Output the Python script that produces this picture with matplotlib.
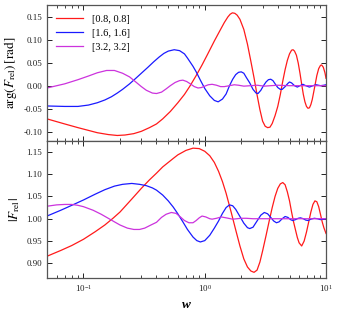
import matplotlib
matplotlib.use("Agg")
import matplotlib.pyplot as plt
import matplotlib.ticker as mticker
import numpy as np

plt.rcParams['font.family'] = ['Liberation Serif', 'DejaVu Serif']
plt.rcParams['mathtext.fontset'] = 'stix'

labels = ['[0.8, 0.8]', '[1.6, 1.6]', '[3.2, 3.2]']
colors = ['#ff1a1a', '#1a1aff', '#cc33dd']

# arg(F_rel) vs w
w_arg_red = [0.05, 0.07, 0.09, 0.11, 0.13, 0.16, 0.19, 0.22, 0.26, 0.30, 0.35, 0.40,
             0.45, 0.52, 0.60, 0.68, 0.75, 0.85, 0.95, 1.05, 1.2, 1.35, 1.45, 1.55,
             1.62, 1.69, 1.77, 1.85, 1.95, 2.1, 2.25, 2.4, 2.55, 2.7, 2.85, 3.0, 3.15,
             3.3, 3.45, 3.6, 3.8, 4.0, 4.2, 4.4, 4.6, 4.8, 5.0, 5.2, 5.35, 5.5, 5.7,
             5.9, 6.1, 6.3, 6.5, 6.7, 6.9, 7.1, 7.3, 7.5, 7.7, 7.9, 8.1, 8.4, 8.7,
             9.0, 9.2, 9.5, 9.8, 10.0]
arg_red = [-0.072, -0.083, -0.091, -0.097, -0.102, -0.106, -0.108, -0.107, -0.104,
           -0.099, -0.091, -0.083, -0.072, -0.056, -0.037, -0.019, -0.002, 0.022,
           0.045, 0.067, 0.097, 0.122, 0.137, 0.149, 0.155, 0.158, 0.157, 0.153,
           0.144, 0.122, 0.090, 0.053, 0.017, -0.020, -0.052, -0.077, -0.088,
           -0.091, -0.090, -0.082, -0.065, -0.045, -0.019, 0.010, 0.035, 0.055,
           0.069, 0.077, 0.078, 0.075, 0.066, 0.049, 0.027, 0.003, -0.019, -0.035,
           -0.045, -0.049, -0.048, -0.041, -0.030, -0.015, 0.000, 0.022, 0.037,
           0.044, 0.045, 0.040, 0.028, 0.016]

w_arg_blue = [0.05, 0.07, 0.09, 0.11, 0.13, 0.15, 0.17, 0.19, 0.21, 0.24, 0.27, 0.30,
              0.34, 0.38, 0.42, 0.46, 0.50, 0.56, 0.62, 0.68, 0.72, 0.80, 0.85, 0.92,
              1.0, 1.1, 1.2, 1.29, 1.4, 1.5, 1.6, 1.7, 1.8, 1.9, 2.0, 2.1, 2.2, 2.35,
              2.5, 2.65, 2.75, 2.9, 3.05, 3.2, 3.35, 3.5, 3.65, 3.85, 4.0, 4.2, 4.35,
              4.6, 4.85, 5.0, 5.2, 5.5, 5.8, 6.1, 6.45, 6.8, 7.3, 7.8, 8.3, 9.0, 9.6,
              10.0]
arg_blue = [-0.044, -0.045, -0.045, -0.042, -0.037, -0.031, -0.024, -0.016, -0.008,
            0.004, 0.016, 0.027, 0.040, 0.052, 0.062, 0.070, 0.075, 0.078, 0.076,
            0.069, 0.060, 0.042, 0.030, 0.012, -0.006, -0.022, -0.032, -0.035,
            -0.029, -0.018, 0.000, 0.014, 0.024, 0.029, 0.030, 0.027, 0.018, 0.006,
            -0.008, -0.016, -0.017, -0.010, 0.000, 0.008, 0.013, 0.014, 0.011, 0.002,
            -0.004, -0.008, -0.008, -0.002, 0.005, 0.008, 0.006, 0.000, -0.003, 0.000,
            0.003, 0.000, -0.003, 0.000, 0.002, 0.000, 0.001, 0.002]

w_arg_mag = [0.05, 0.07, 0.09, 0.11, 0.13, 0.155, 0.18, 0.21, 0.24, 0.27, 0.30, 0.33,
             0.37, 0.40, 0.44, 0.48, 0.52, 0.57, 0.62, 0.66, 0.71, 0.76, 0.82, 0.88,
             0.94, 1.0, 1.07, 1.15, 1.25, 1.35, 1.45, 1.6, 1.75, 1.9, 2.1, 2.4, 2.7,
             3.1, 3.5, 4.0, 5.0, 6.0, 7.0, 8.0, 10.0]
arg_mag = [-0.005, 0.004, 0.013, 0.021, 0.028, 0.033, 0.033, 0.027, 0.019, 0.008,
           -0.002, -0.010, -0.016, -0.017, -0.014, -0.007, 0.000, 0.007, 0.011, 0.012,
           0.009, 0.004, -0.002, -0.005, -0.004, -0.001, 0.002, 0.003, 0.001, -0.002,
           -0.002, 0.000, 0.002, 0.001, -0.001, 0.000, 0.001, -0.001, 0.000, 0.001,
           0.000, 0.000, 0.000, 0.000, 0.000]

# |F_rel| vs w
w_abs_red = [0.05, 0.065, 0.08, 0.1, 0.125, 0.15, 0.175, 0.2, 0.25, 0.3, 0.35, 0.4,
             0.45, 0.5, 0.55, 0.6, 0.7, 0.8, 0.9, 1.0, 1.1, 1.2, 1.3, 1.4, 1.5, 1.65,
             1.8, 1.95, 2.1, 2.25, 2.4, 2.55, 2.7, 2.85, 3.0, 3.2, 3.4, 3.6, 3.8, 4.0,
             4.2, 4.4, 4.6, 4.8, 5.0, 5.2, 5.4, 5.6, 5.8, 6.0, 6.3, 6.6, 6.9, 7.2,
             7.5, 7.8, 8.1, 8.4, 8.7, 9.0, 9.3, 9.6, 10.0]
abs_red = [0.916, 0.929, 0.940, 0.954, 0.971, 0.986, 1.001, 1.015, 1.044, 1.068,
           1.087, 1.102, 1.116, 1.126, 1.135, 1.143, 1.153, 1.158, 1.157, 1.151,
           1.141, 1.126, 1.106, 1.083, 1.057, 1.015, 0.975, 0.939, 0.910, 0.892,
           0.883, 0.880, 0.885, 0.903, 0.928, 0.962, 0.995, 1.025, 1.050, 1.068,
           1.078, 1.081, 1.076, 1.060, 1.040, 1.015, 0.993, 0.975, 0.958, 0.946,
           0.939, 0.950, 0.970, 0.993, 1.015, 1.032, 1.040, 1.038, 1.027, 1.010,
           0.993, 0.980, 0.967]

w_abs_blue = [0.05, 0.065, 0.08, 0.1, 0.125, 0.15, 0.18, 0.21, 0.25, 0.29, 0.33,
              0.37, 0.40, 0.45, 0.50, 0.55, 0.60, 0.66, 0.72, 0.80, 0.86, 0.92, 1.0,
              1.1, 1.2, 1.3, 1.4, 1.5, 1.6, 1.7, 1.8, 1.95, 2.1, 2.25, 2.35, 2.5, 2.7,
              2.9, 3.1, 3.3, 3.5, 3.7, 3.9, 4.1, 4.35, 4.6, 4.85, 5.1, 5.3, 5.6, 5.9,
              6.15, 6.5, 6.8, 7.1, 7.5, 8.0, 8.5, 9.0, 9.5, 10.0]
abs_blue = [1.006, 1.019, 1.030, 1.042, 1.055, 1.065, 1.073, 1.077, 1.079, 1.077,
            1.074, 1.069, 1.064, 1.053, 1.040, 1.026, 1.011, 0.993, 0.976, 0.959,
            0.951, 0.948, 0.951, 0.963, 0.979, 0.995, 1.012, 1.025, 1.031, 1.029,
            1.021, 1.005, 0.990, 0.980, 0.978, 0.981, 0.995, 1.008, 1.014, 1.011,
            1.003, 0.995, 0.991, 0.993, 1.000, 1.005, 1.003, 0.998, 0.996, 0.998,
            1.001, 1.002, 1.000, 0.997, 0.996, 0.999, 1.001, 1.000, 0.998, 0.999,
            1.000]

w_abs_mag = [0.05, 0.06, 0.07, 0.08, 0.09, 0.1, 0.12, 0.14, 0.16, 0.18, 0.2, 0.23,
             0.26, 0.29, 0.32, 0.36, 0.40, 0.44, 0.48, 0.53, 0.58, 0.63, 0.68, 0.74,
             0.80, 0.85, 0.90, 0.95, 1.02, 1.1, 1.15, 1.25, 1.37, 1.5, 1.7, 2.0, 2.2,
             2.5, 3.0, 4.0, 5.0, 7.0, 10.0]
abs_mag = [1.028, 1.031, 1.032, 1.032, 1.030, 1.027, 1.019, 1.010, 1.001, 0.993,
           0.986, 0.979, 0.976, 0.976, 0.979, 0.986, 0.992, 1.003, 1.010, 1.014,
           1.012, 1.004, 0.996, 0.991, 0.991, 0.996, 1.002, 1.006, 1.004, 1.000,
           0.999, 1.001, 1.004, 1.002, 0.999, 1.001, 1.001, 1.000, 1.000, 1.000,
           1.000, 1.000, 1.000]

fig = plt.figure(figsize=(3.39, 3.13), dpi=100)
ax1 = fig.add_axes([0.1386, 0.5495, 0.8231, 0.4345])
ax2 = fig.add_axes([0.1386, 0.1128, 0.8231, 0.4367], sharex=ax1)

for w, v, c, lab in zip([w_arg_red, w_arg_blue, w_arg_mag],
                        [arg_red, arg_blue, arg_mag], colors, labels):
    ax1.plot(w, v, color=c, lw=0.9, label=lab)
for w, v, c in zip([w_abs_red, w_abs_blue, w_abs_mag],
                   [abs_red, abs_blue, abs_mag], colors):
    ax2.plot(w, v, color=c, lw=0.9)

ax1.set_xscale('log')
ax1.set_xlim(0.05, 10)
ax1.set_ylim(-0.12, 0.175)
ax2.set_ylim(0.868, 1.174)
ax1.yaxis.set_major_locator(mticker.MultipleLocator(0.05))
ax2.yaxis.set_major_locator(mticker.MultipleLocator(0.05))
ax1.yaxis.set_major_formatter(mticker.FormatStrFormatter('%.2f'))
ax2.yaxis.set_major_formatter(mticker.FormatStrFormatter('%.2f'))

for ax in (ax1, ax2):
    ax.tick_params(which='both', direction='in', top=True, right=True,
                   labelsize=6.5, colors='#222222')
    ax.tick_params(which='major', length=3.5, width=0.7)
    ax.tick_params(which='minor', length=2, width=0.6)
    for s in ax.spines.values():
        s.set_color('#555555')
        s.set_linewidth(0.9)
ax1.tick_params(labelbottom=False)

ax1.set_ylabel(r'$\arg(F_{\rm rel})\,[{\rm rad}]$', fontsize=9.5, labelpad=3)
ax2.set_ylabel(r'$|F_{\rm rel}|$', fontsize=9.5, labelpad=3)
ax2.set_xlabel('w', fontsize=9.5, style='italic', weight='bold', labelpad=4)

leg = ax1.legend(loc='upper left', fontsize=7.5, frameon=False, handlelength=2.6,
                 borderaxespad=0.5, labelspacing=0.45)

fig.savefig('out.png', dpi=100)
